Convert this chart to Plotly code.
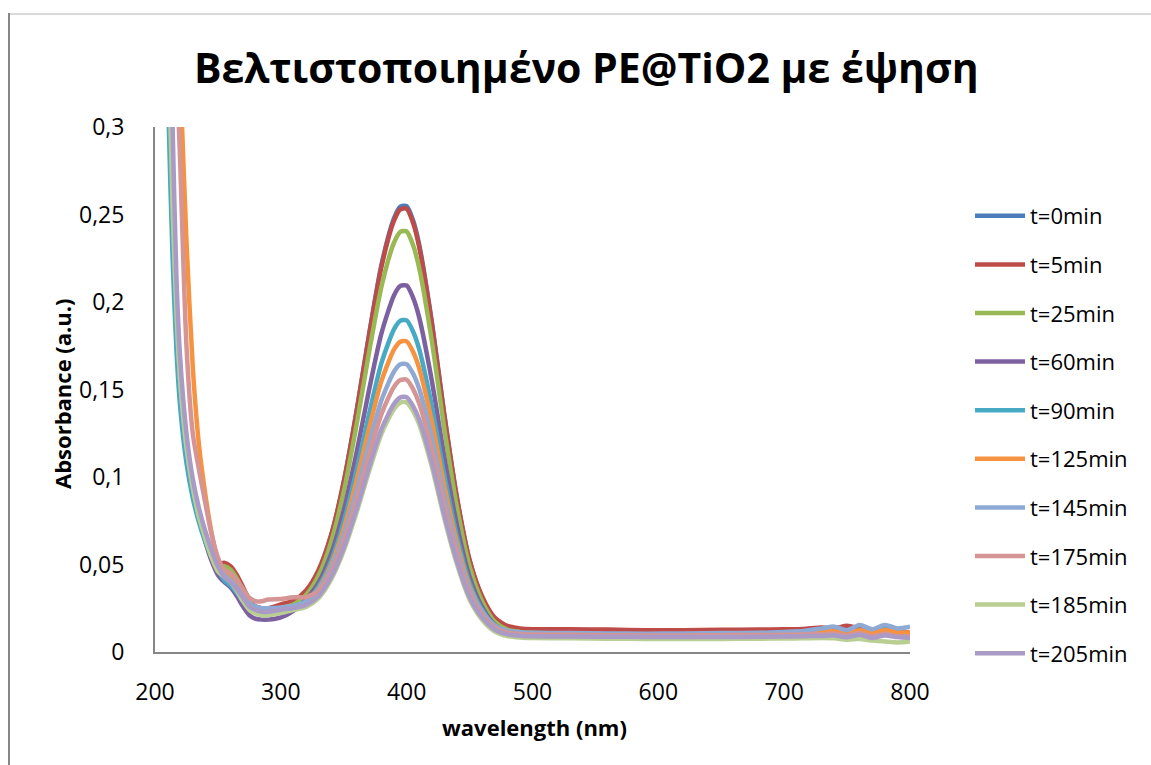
import plotly.graph_objects as go

# Wavelength grid (nm) shared by all spectra
wavelength = [205, 208, 211, 214, 217, 220, 225, 230, 235, 240, 245, 250,
              255, 260, 265, 270, 275, 280, 285, 290,
              300, 310, 320, 330, 340, 350, 360, 370, 380, 390, 395, 400, 405, 410,
              420, 430, 440, 450, 460, 470, 480, 490, 500,
              530, 560, 590, 620, 650, 680, 700, 715, 730, 740, 750, 760, 770, 780, 790, 800]

labels = ["t=0min", "t=5min", "t=25min", "t=60min", "t=90min",
          "t=125min", "t=145min", "t=175min", "t=185min", "t=205min"]

colors = ["#4A7EBB", "#BE4B48", "#98B954", "#7D60A0", "#46AAC5",
          "#F69240", "#8EA9D4", "#D49594", "#B8CE92", "#A99BC6"]

abs_t0 = [0.70, 0.50, 0.345, 0.255, 0.195, 0.155, 0.117, 0.094, 0.078, 0.066, 0.056, 0.048,
          0.047, 0.045, 0.040, 0.033, 0.027, 0.024, 0.023, 0.024,
          0.026, 0.0285, 0.0343, 0.0462, 0.0665, 0.0971, 0.1368, 0.181, 0.2214, 0.248, 0.2545, 0.2548, 0.2468, 0.2326,
          0.1886, 0.1352, 0.0878, 0.0522, 0.031, 0.0187, 0.0139, 0.0125, 0.012,
          0.012, 0.0115, 0.011, 0.011, 0.011, 0.0112, 0.0115, 0.012, 0.0125, 0.013, 0.0115, 0.0145, 0.011, 0.013, 0.0125, 0.010]

abs_t5 = [0.70, 0.50, 0.345, 0.255, 0.195, 0.155, 0.117, 0.094, 0.078, 0.066, 0.057, 0.050,
          0.051, 0.049, 0.044, 0.037, 0.030, 0.026, 0.025, 0.025,
          0.0272, 0.0294, 0.0352, 0.0469, 0.067, 0.0973, 0.1366, 0.1803, 0.2203, 0.2466, 0.253, 0.2533, 0.2454, 0.2313,
          0.1878, 0.1349, 0.088, 0.0527, 0.0318, 0.0197, 0.0149, 0.0135, 0.013,
          0.013, 0.0128, 0.0125, 0.0125, 0.0127, 0.0128, 0.013, 0.0132, 0.014, 0.0135, 0.015, 0.0135, 0.0125, 0.0145, 0.012, 0.011]

abs_t25 = [0.70, 0.50, 0.345, 0.255, 0.195, 0.155, 0.117, 0.094, 0.078, 0.066, 0.056, 0.049,
           0.049, 0.047, 0.042, 0.035, 0.028, 0.024, 0.023, 0.023,
           0.0251, 0.0272, 0.0326, 0.0437, 0.0629, 0.0917, 0.1291, 0.1708, 0.2089, 0.234, 0.2401, 0.2403, 0.2327, 0.2193,
           0.1778, 0.1273, 0.0826, 0.0489, 0.0289, 0.0174, 0.0128, 0.0115, 0.011,
           0.0105, 0.0102, 0.010, 0.010, 0.010, 0.0102, 0.0105, 0.0108, 0.011, 0.0115, 0.010, 0.012, 0.0095, 0.011, 0.009, 0.008]

abs_t60 = [0.70, 0.50, 0.345, 0.255, 0.195, 0.155, 0.117, 0.093, 0.076, 0.063, 0.052, 0.044,
           0.040, 0.037, 0.032, 0.026, 0.021, 0.019, 0.0185, 0.0185,
           0.0198, 0.0235, 0.0301, 0.0396, 0.0561, 0.081, 0.1133, 0.1494, 0.1822, 0.2039, 0.2092, 0.2094, 0.2027, 0.1911,
           0.155, 0.1111, 0.0723, 0.0429, 0.0256, 0.0155, 0.0116, 0.0104, 0.010,
           0.010, 0.0098, 0.0097, 0.0097, 0.0098, 0.010, 0.0102, 0.0105, 0.0112, 0.012, 0.010, 0.0125, 0.0105, 0.0135, 0.011, 0.009]

abs_t90 = [0.62, 0.43, 0.30, 0.225, 0.173, 0.140, 0.108, 0.088, 0.074, 0.063, 0.054, 0.047,
           0.041, 0.038, 0.034, 0.029, 0.025, 0.023, 0.022, 0.022,
           0.0236, 0.025, 0.0291, 0.0375, 0.0522, 0.0745, 0.1034, 0.1357, 0.1652, 0.1845, 0.1893, 0.1895, 0.1833, 0.1729,
           0.1405, 0.1009, 0.066, 0.0396, 0.024, 0.015, 0.0114, 0.0104, 0.010,
           0.0098, 0.0096, 0.0095, 0.0095, 0.0095, 0.0097, 0.0099, 0.010, 0.0105, 0.011, 0.0095, 0.0125, 0.010, 0.013, 0.0115, 0.010]

abs_t125 = [1.0, 0.85, 0.65, 0.50, 0.40, 0.33, 0.235, 0.163, 0.118, 0.090, 0.068, 0.052,
            0.045, 0.042, 0.037, 0.031, 0.026, 0.024, 0.023, 0.023,
            0.0235, 0.0248, 0.0285, 0.0363, 0.0499, 0.0706, 0.0975, 0.1275, 0.1549, 0.1729, 0.1773, 0.1775, 0.1717, 0.162,
            0.1318, 0.0948, 0.0623, 0.0376, 0.023, 0.0146, 0.0113, 0.0103, 0.010,
            0.0098, 0.0096, 0.0095, 0.0096, 0.0098, 0.010, 0.0105, 0.011, 0.0118, 0.012, 0.011, 0.0125, 0.0115, 0.0125, 0.0115, 0.011]

abs_t145 = [0.70, 0.50, 0.345, 0.255, 0.195, 0.155, 0.117, 0.094, 0.078, 0.066, 0.055, 0.048,
            0.044, 0.041, 0.037, 0.032, 0.028, 0.026, 0.025, 0.025,
            0.0254, 0.0264, 0.0287, 0.0358, 0.0482, 0.067, 0.0916, 0.119, 0.144, 0.1603, 0.1644, 0.1645, 0.1592, 0.1503,
            0.1226, 0.0887, 0.059, 0.0362, 0.0229, 0.0152, 0.0122, 0.0113, 0.011,
            0.0108, 0.0106, 0.0105, 0.0106, 0.0108, 0.011, 0.0115, 0.012, 0.0135, 0.0145, 0.0125, 0.0155, 0.013, 0.0155, 0.0135, 0.0145]

abs_t175 = [0.95, 0.75, 0.56, 0.43, 0.34, 0.28, 0.175, 0.125, 0.104, 0.085, 0.067, 0.054,
            0.047, 0.045, 0.041, 0.036, 0.031, 0.029, 0.029, 0.030,
            0.0303, 0.0313, 0.0313, 0.035, 0.0457, 0.0634, 0.0866, 0.1125, 0.1361, 0.1516, 0.1554, 0.1556, 0.1504, 0.142,
            0.1158, 0.0836, 0.0555, 0.0339, 0.0213, 0.014, 0.0111, 0.0103, 0.010,
            0.0098, 0.0096, 0.0095, 0.0095, 0.0096, 0.0097, 0.0098, 0.010, 0.0102, 0.0105, 0.0095, 0.0108, 0.009, 0.0105, 0.009, 0.009]

abs_t185 = [0.70, 0.50, 0.345, 0.255, 0.195, 0.155, 0.117, 0.094, 0.077, 0.065, 0.054, 0.046,
            0.043, 0.040, 0.035, 0.029, 0.024, 0.022, 0.021, 0.021,
            0.0222, 0.024, 0.0258, 0.0308, 0.0415, 0.0579, 0.0792, 0.103, 0.1247, 0.1389, 0.1425, 0.1426, 0.1378, 0.13,
            0.1058, 0.0761, 0.0501, 0.030, 0.0184, 0.0117, 0.0091, 0.0083, 0.008,
            0.0078, 0.0076, 0.0075, 0.0075, 0.0075, 0.0076, 0.0077, 0.0078, 0.008, 0.0078, 0.007, 0.0075, 0.0065, 0.006, 0.0055, 0.006]

abs_t205 = [0.80, 0.58, 0.40, 0.30, 0.215, 0.168, 0.125, 0.099, 0.082, 0.069, 0.058, 0.049,
            0.043, 0.040, 0.036, 0.031, 0.026, 0.024, 0.023, 0.023,
            0.0242, 0.0251, 0.0269, 0.032, 0.0429, 0.0595, 0.0812, 0.1054, 0.1274, 0.1418, 0.1455, 0.1456, 0.1407, 0.1328,
            0.1083, 0.0781, 0.0517, 0.0314, 0.0196, 0.0128, 0.0101, 0.0093, 0.009,
            0.0088, 0.0087, 0.0086, 0.0086, 0.0086, 0.0087, 0.0088, 0.009, 0.0092, 0.0095, 0.0085, 0.0098, 0.008, 0.0095, 0.0085, 0.008]

spectra = [abs_t0, abs_t5, abs_t25, abs_t60, abs_t90,
           abs_t125, abs_t145, abs_t175, abs_t185, abs_t205]

x_ticks = [200, 300, 400, 500, 600, 700, 800]
y_ticks = [0, 0.05, 0.1, 0.15, 0.2, 0.25, 0.3]

FONT = "Open Sans"
AXIS_GREY = "#868686"

fig = go.Figure()
for name, col, ys in zip(labels, colors, spectra):
    fig.add_trace(go.Scatter(
        x=wavelength, y=ys, name=name, mode="lines",
        line=dict(color=col, width=4.5, shape="spline", smoothing=0.7),
        legendgroup=name,
    ))

# plot area: x 155..910 px, y 127..652 px
L, R, T, B = 155, 241, 127, 113
W, H = 1151, 765
pw, ph = W - L - R, H - T - B


def px(x):
    return (x - L) / pw


def py(y):
    return (H - B - y) / ph


fig.update_layout(
    width=W, height=H,
    margin=dict(l=L, r=R, t=T, b=B),
    paper_bgcolor="white", plot_bgcolor="white",
    separators=",.",
    font=dict(family=FONT, color="black"),
    showlegend=True,
    legend=dict(
        x=px(970), y=py(195), xanchor="left", yanchor="top",
        font=dict(family=FONT, size=22, color="black"),
        tracegroupgap=17, itemwidth=50,
        bgcolor="rgba(0,0,0,0)",
    ),
    xaxis=dict(
        range=[200, 800], tickvals=x_ticks,
        showline=True, linecolor=AXIS_GREY, linewidth=2,
        showgrid=False, zeroline=False, ticks="",
        tickfont=dict(family=FONT, size=23, color="black"),
        ticklabelstandoff=18,
    ),
    yaxis=dict(
        range=[0, 0.3], tickvals=y_ticks,
        showline=True, linecolor=AXIS_GREY, linewidth=2,
        showgrid=False, zeroline=False, ticks="",
        tickfont=dict(family=FONT, size=23, color="black"),
        ticklabelstandoff=24,
    ),
    annotations=[
        dict(text="<b>Βελτιστοποιημένο PE@TiO2 με έψηση</b>", xref="paper", yref="paper",
             x=px(586), y=py(67), xanchor="center", yanchor="middle", showarrow=False,
             font=dict(family=FONT, size=41, color="black")),
        dict(text="<b>wavelength (nm)</b>", xref="paper", yref="paper",
             x=px(534), y=py(727), xanchor="center", yanchor="middle", showarrow=False,
             font=dict(family=FONT, size=22, color="black")),
        dict(text="<b>Absorbance (a.u.)</b>", xref="paper", yref="paper",
             x=px(62), y=py(394), xanchor="center", yanchor="middle", showarrow=False,
             textangle=-90, font=dict(family=FONT, size=22, color="black")),
    ],
    shapes=[
        dict(type="line", xref="paper", yref="paper", x0=px(9), x1=px(1151), y0=py(14), y1=py(14),
             line=dict(color="#D9D9D9", width=2)),
        dict(type="line", xref="paper", yref="paper", x0=px(9), x1=px(9), y0=py(13), y1=py(765),
             line=dict(color=AXIS_GREY, width=2)),
    ],
)

fig.write_html("out.html")
